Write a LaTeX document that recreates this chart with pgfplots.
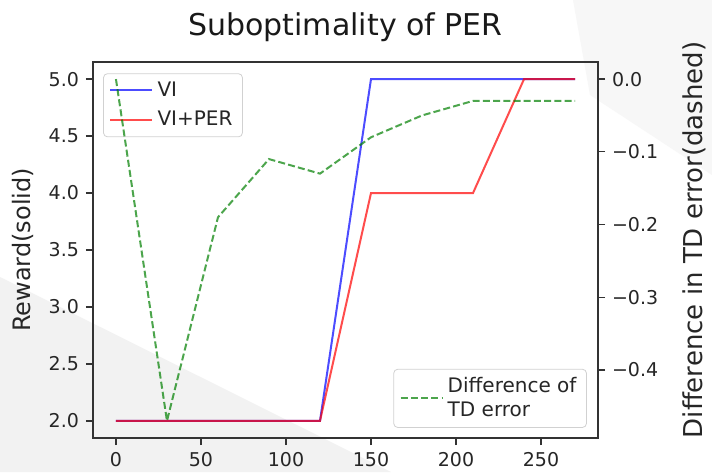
\documentclass[border=0pt]{standalone}
\usepackage{pgfplots}
\pgfplotsset{compat=1.18}
\usepackage{fontspec}
\setmainfont{DejaVu Sans}
\definecolor{mplgreen}{rgb}{0,0.5,0}
\begin{document}
\begin{tikzpicture}[x=1pt,y=1pt]
\path[fill=white, use as bounding box] (-46.5,-17) rectangle (309.5,219);
\fill[black!5] (-46.5,80.5) -- (-46.5,-17) -- (149,-17) -- cycle;
\fill[black!3] (240,219) -- (309.5,219) -- (309.5,131.5) -- (248.5,171.5) -- cycle;
\pgfplotsset{
  every axis/.append style={
    at={(0,0)}, anchor=south west, scale only axis,
    width=252.5pt, height=188pt,
    xmin=-13.5, xmax=283.5,
    tick align=outside, major tick length=3.5pt,
    tick style={black!80, line width=0.6pt},
    axis line style={black!80, line width=0.8pt},
    tick label style={font=\fontsize{9.5}{11}\selectfont, text=black!85},
    label style={text=black!85},
    legend style={font=\fontsize{10}{12}\selectfont, text=black!85, draw=black!18,
      rounded corners=2pt, fill=white, fill opacity=0.8, text opacity=1,
      cells={align=left}, row sep=2pt},
    legend cell align=left,
    legend image code/.code={\draw[#1] (0pt,0pt) -- (21pt,0pt);},
  }
}
\begin{axis}[
  ymin=1.85, ymax=5.15,
  xtick={0,50,100,150,200,250},
  xticklabels={0,50,100,150,200,250},
  ytick={2,2.5,3,3.5,4,4.5,5},
  yticklabels={2.0,2.5,3.0,3.5,4.0,4.5,5.0},
  xtick pos=bottom, ytick pos=left,
  ylabel={Reward(solid)},
  ylabel style={font=\fontsize{12}{14}\selectfont, at={(axis description cs:-0.139,0.5)}, anchor=center},
  title={Suboptimality of PER},
  title style={font=\fontsize{15}{17}\selectfont, text=black!90, at={(axis description cs:0.5,1)}, anchor=center, yshift=11.5pt},
  legend style={at={(0.02,0.97)}, anchor=north west},
]
\addplot[blue, opacity=0.7, line width=1pt] coordinates {(0,2) (30,2) (60,2) (90,2) (120,2) (150,5) (180,5) (210,5) (240,5) (270,5)};
\addlegendentry{VI}
\addplot[red, opacity=0.7, line width=1pt] coordinates {(0,2) (30,2) (60,2) (90,2) (120,2) (150,4) (180,4) (210,4) (240,5) (270,5)};
\addlegendentry{VI+PER}
\end{axis}
\begin{axis}[
  ymin=-0.4935, ymax=0.0235,
  axis x line=none, axis y line*=right,
  ytick={-0.4,-0.3,-0.2,-0.1,0},
  yticklabels={−0.4,−0.3,−0.2,−0.1,0.0},
  ytick pos=right,
  yticklabel style={anchor=west},
  ylabel={Difference in TD error(dashed)},
  ylabel style={font=\fontsize{13}{15}\selectfont, at={(axis description cs:1.19,0.527)}, anchor=center},
  legend style={at={(0.978,0.027)}, anchor=south east},
]
\addplot[mplgreen, opacity=0.7, line width=1pt, dash pattern=on 3.5pt off 1.6pt] coordinates {(0,0) (30,-0.47) (60,-0.19) (90,-0.11) (120,-0.13) (150,-0.08) (180,-0.05) (210,-0.03) (240,-0.03) (270,-0.03)};
\addlegendentry{Difference of\\TD error}
\end{axis}
\end{tikzpicture}
\end{document}
